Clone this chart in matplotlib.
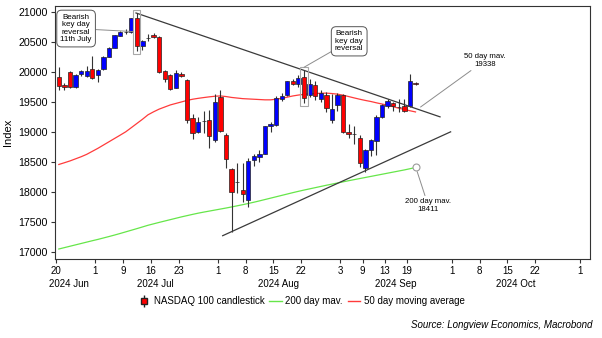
"""
NASDAQ 100 daily candlesticks with 50/200 day moving averages and trend lines
"""

import matplotlib.pyplot as plt
from matplotlib.lines import Line2D
from matplotlib.patches import Rectangle
from matplotlib.legend_handler import HandlerTuple
import numpy as np

plt.rcParams['font.family'] = ['Liberation Sans', 'DejaVu Sans']
plt.rcParams['font.size'] = 7

# daily OHLC, 20 Jun 2024 .. 20 Sep 2024 (trading days)
opens = [19922, 19794, 20006, 19756, 19967, 19944, 20056, 19961, 20050, 20261,
         20411, 20611, 20678, 20667, 20900, 20440, 20578, 20630, 20590, 20017,
         19950, 19744, 19978, 19878, 19244, 19006, 19185, 19211, 18867, 19589,
         18950, 18383, 18161, 18033, 17867, 18544, 18589, 18644, 19100, 19117,
         19561, 19617, 19850, 19811, 19922, 19617, 19794, 19561, 19617, 19206,
         19450, 19617, 19006, 18978, 18911, 18394, 18711, 18856, 19256, 19433,
         19489, 19420, 19433, 19433, 19828]
highs = [20089, 19828, 20017, 19970, 20040, 20100, 20278, 20060, 20270, 20430,
         20630, 20690, 20720, 20910, 20990, 20540, 20640, 20650, 20610, 20040,
         19970, 20033, 20010, 19880, 19300, 19250, 19350, 19367, 19644, 19700,
         18980, 18400, 18478, 18478, 18561, 18640, 18700, 19110, 19170, 19600,
         19650, 19860, 19880, 19950, 20044, 19880, 19850, 19700, 19672, 19644,
         19650, 19640, 19140, 19100, 18950, 18720, 18880, 19280, 19470, 19560,
         19510, 19560, 19560, 19967, 19840]
lows = [19700, 19700, 19730, 19733, 19940, 19920, 19880, 19840, 20040, 20250,
        20400, 20600, 20640, 20660, 20350, 20370, 20520, 20570, 19990, 19840,
        19700, 19730, 19920, 19150, 18894, 18980, 18980, 18733, 18840, 19000,
        18394, 17339, 17978, 17833, 17744, 18430, 18500, 18630, 19000, 19100,
        19520, 19600, 19780, 19750, 19489, 19580, 19540, 19500, 19344, 19156,
        19350, 18990, 18900, 18800, 18420, 18330, 18600, 18620, 19230, 19400,
        19360, 19340, 19330, 19420, 19780]
closes = [19767, 19756, 19756, 19950, 20017, 20028, 19906, 20044, 20261, 20411,
          20622, 20667, 20678, 20900, 20440, 20520, 20578, 20590, 20000, 19894,
          19728, 19989, 19933, 19200, 18989, 19172, 19185, 18933, 19506, 19017,
          18550, 18006, 18161, 17967, 18517, 18600, 18633, 19100, 19133, 19578,
          19600, 19850, 19811, 19911, 19578, 19811, 19600, 19656, 19411, 19394,
          19617, 19006, 18967, 18978, 18478, 18700, 18867, 19256, 19450, 19522,
          19433, 19420, 19350, 19856, 19811]

ma50 = [18461, 18490, 18520, 18555, 18590, 18630, 18680, 18730, 18785, 18840,
        18895, 18950, 19006, 19075, 19145, 19215, 19290, 19340, 19385, 19420,
        19455, 19480, 19505, 19530, 19550, 19565, 19578, 19590, 19600, 19605,
        19595, 19580, 19570, 19560, 19555, 19550, 19545, 19540, 19540, 19550,
        19565, 19585, 19605, 19620, 19632, 19640, 19645, 19650, 19652, 19645,
        19635, 19618, 19595, 19572, 19550, 19530, 19512, 19490, 19470, 19450,
        19425, 19400, 19380, 19358, 19338]
ma200 = [17050, 17073, 17096, 17119, 17142, 17165, 17188, 17210, 17234, 17258,
         17283, 17309, 17336, 17363, 17390, 17418, 17446, 17470, 17494, 17517,
         17540, 17563, 17586, 17607, 17628, 17648, 17666, 17683, 17700, 17717,
         17734, 17752, 17771, 17790, 17810, 17831, 17853, 17876, 17899, 17922,
         17945, 17968, 17991, 18013, 18034, 18054, 18074, 18094, 18114, 18133,
         18152, 18171, 18190, 18208, 18226, 18244, 18262, 18280, 18298, 18316,
         18334, 18352, 18370, 18390, 18411]

# trend lines (trading-day position, index level)
upper_x = [14.35, 68.9]
upper_y = [20990, 19256]
lower_x = [29.9, 70.8]
lower_y = [17272, 19006]

# x axis: trading-day index of each labelled date
tick_pos = [0, 7, 12, 17, 22, 29, 34, 39, 44, 51, 55, 59, 63, 71, 76, 81, 86, 94]
tick_lab = ['20', '1', '9', '16', '23', '1', '8', '15', '22', '3', '9', '13', '19',
            '1', '8', '15', '22', '1']
month_pos = [2.3, 17.9, 40.0, 61.0, 82.4]
month_lab = ['2024 Jun', '2024 Jul', '2024 Aug', '2024 Sep', '2024 Oct']

RED = '#FF0000'
BLUE = '#0000FF'
MA50_COL = '#FF3B3B'
MA200_COL = '#66E64A'
TREND_COL = '#3A3A3A'
NOTE_COL = '#8C8C8C'

fig = plt.figure(figsize=(6.02, 3.38), dpi=100)
ax = fig.add_axes([0.0914, 0.2337, 0.8886, 0.7483])

o = np.array(opens)
h = np.array(highs)
l = np.array(lows)
c = np.array(closes)
x = np.arange(len(o)) + 0.5

# moving averages
ax.plot(x, ma200, color=MA200_COL, lw=0.9, zorder=2)
ax.plot(x, ma50, color=MA50_COL, lw=0.9, zorder=2)

# candlesticks
ax.vlines(x, l, h, color='#333333', lw=0.8, zorder=3)
up = c >= o
cols = np.where(up, BLUE, RED)
ax.bar(x, np.abs(c - o), bottom=np.minimum(o, c), width=0.78, color=cols,
       edgecolor='#222222', linewidth=0.5, zorder=4)

# trend lines
ax.plot(upper_x, upper_y, color=TREND_COL, lw=0.9, zorder=5)
ax.plot(lower_x, lower_y, color=TREND_COL, lw=0.9, zorder=5)

# highlight boxes around the reversal candles
for i in (14, 44):
    ax.add_patch(Rectangle((x[i] - 0.65, l[i] - 50), 1.3, h[i] - l[i] + 100,
                           fill=False, edgecolor='#A8A8A8', lw=0.8, zorder=6))

box = dict(boxstyle='round,pad=0.45,rounding_size=0.6', facecolor='white',
           edgecolor='#555555', lw=0.7)
line = dict(arrowstyle='-', color=NOTE_COL, lw=0.7, shrinkA=0, shrinkB=0)

ax.annotate('Bearish\nkey day\nreversal\n11th July', xy=(x[14] - 0.7, 20680),
            xytext=(3.6, 20730), ha='center', va='center', fontsize=5.8,
            linespacing=1.1, bbox=box, arrowprops=line, zorder=7)
ax.annotate('Bearish\nkey day\nreversal', xy=(x[44], h[44] + 40),
            xytext=(52.6, 20517), ha='center', va='center', fontsize=5.8,
            linespacing=1.1, bbox=box, arrowprops=line, zorder=7)

ax.annotate('50 day mav.\n%d' % ma50[-1], xy=(x[-1] + 0.9, 19420),
            xytext=(77.0, 20200), ha='center', va='center', fontsize=5.6,
            linespacing=1.2, arrowprops=line, zorder=7)

ax.plot(x[-1], ma200[-1], marker='o', markersize=5, markerfacecolor='white',
        markeredgecolor='#9A9A9A', markeredgewidth=0.8, zorder=6)
ax.annotate('200 day mav.\n%d' % ma200[-1], xy=(x[-1] + 0.3, ma200[-1] - 70),
            xytext=(66.8, 17770), ha='center', va='center', fontsize=5.6,
            linespacing=1.2, arrowprops=line, zorder=7)

ax.set_xlim(-0.18, 95.8)
ax.set_ylim(16883, 21105)
ax.set_yticks(np.arange(17000, 21001, 500))
ax.set_xticks(tick_pos)
ax.set_xticklabels(tick_lab, fontsize=7)
ax.tick_params(axis='y', labelsize=7.7, length=3, width=0.8, color='#333333', pad=2)
ax.tick_params(axis='x', length=3, width=0.8, color='#333333', pad=2)
for s in ax.spines.values():
    s.set_color('#333333')
    s.set_linewidth(0.8)

for p, m in zip(month_pos, month_lab):
    ax.text(p, -0.098, m, transform=ax.get_xaxis_transform(), ha='center',
            va='center', fontsize=7)

ax.set_ylabel('Index', fontsize=8, labelpad=4)

# legend under the axes: wick and body drawn on top of each other
candle_handle = (Line2D([], [], color='#222222', marker='|', markersize=8, linestyle='none'),
                 Line2D([], [], marker='s', markersize=4, markerfacecolor=RED,
                        markeredgecolor='#222222', linestyle='none'))
handles = [candle_handle,
           Line2D([], [], color=MA200_COL, lw=1),
           Line2D([], [], color=MA50_COL, lw=1)]
labels = ['NASDAQ 100 candlestick', '200 day mav.', '50 day moving average']
fig.legend(handles, labels, loc='center', bbox_to_anchor=(0.5, 0.108), ncol=3,
           frameon=False, fontsize=7, handlelength=1.3, handletextpad=0.35,
           columnspacing=0.5, handler_map={tuple: HandlerTuple(ndivide=1)})

fig.text(0.984, 0.038, 'Source: Longview Economics, Macrobond', ha='right',
         va='center', fontsize=7, style='italic')

fig.savefig('out.png', dpi=100, facecolor='white')
plt.close(fig)
